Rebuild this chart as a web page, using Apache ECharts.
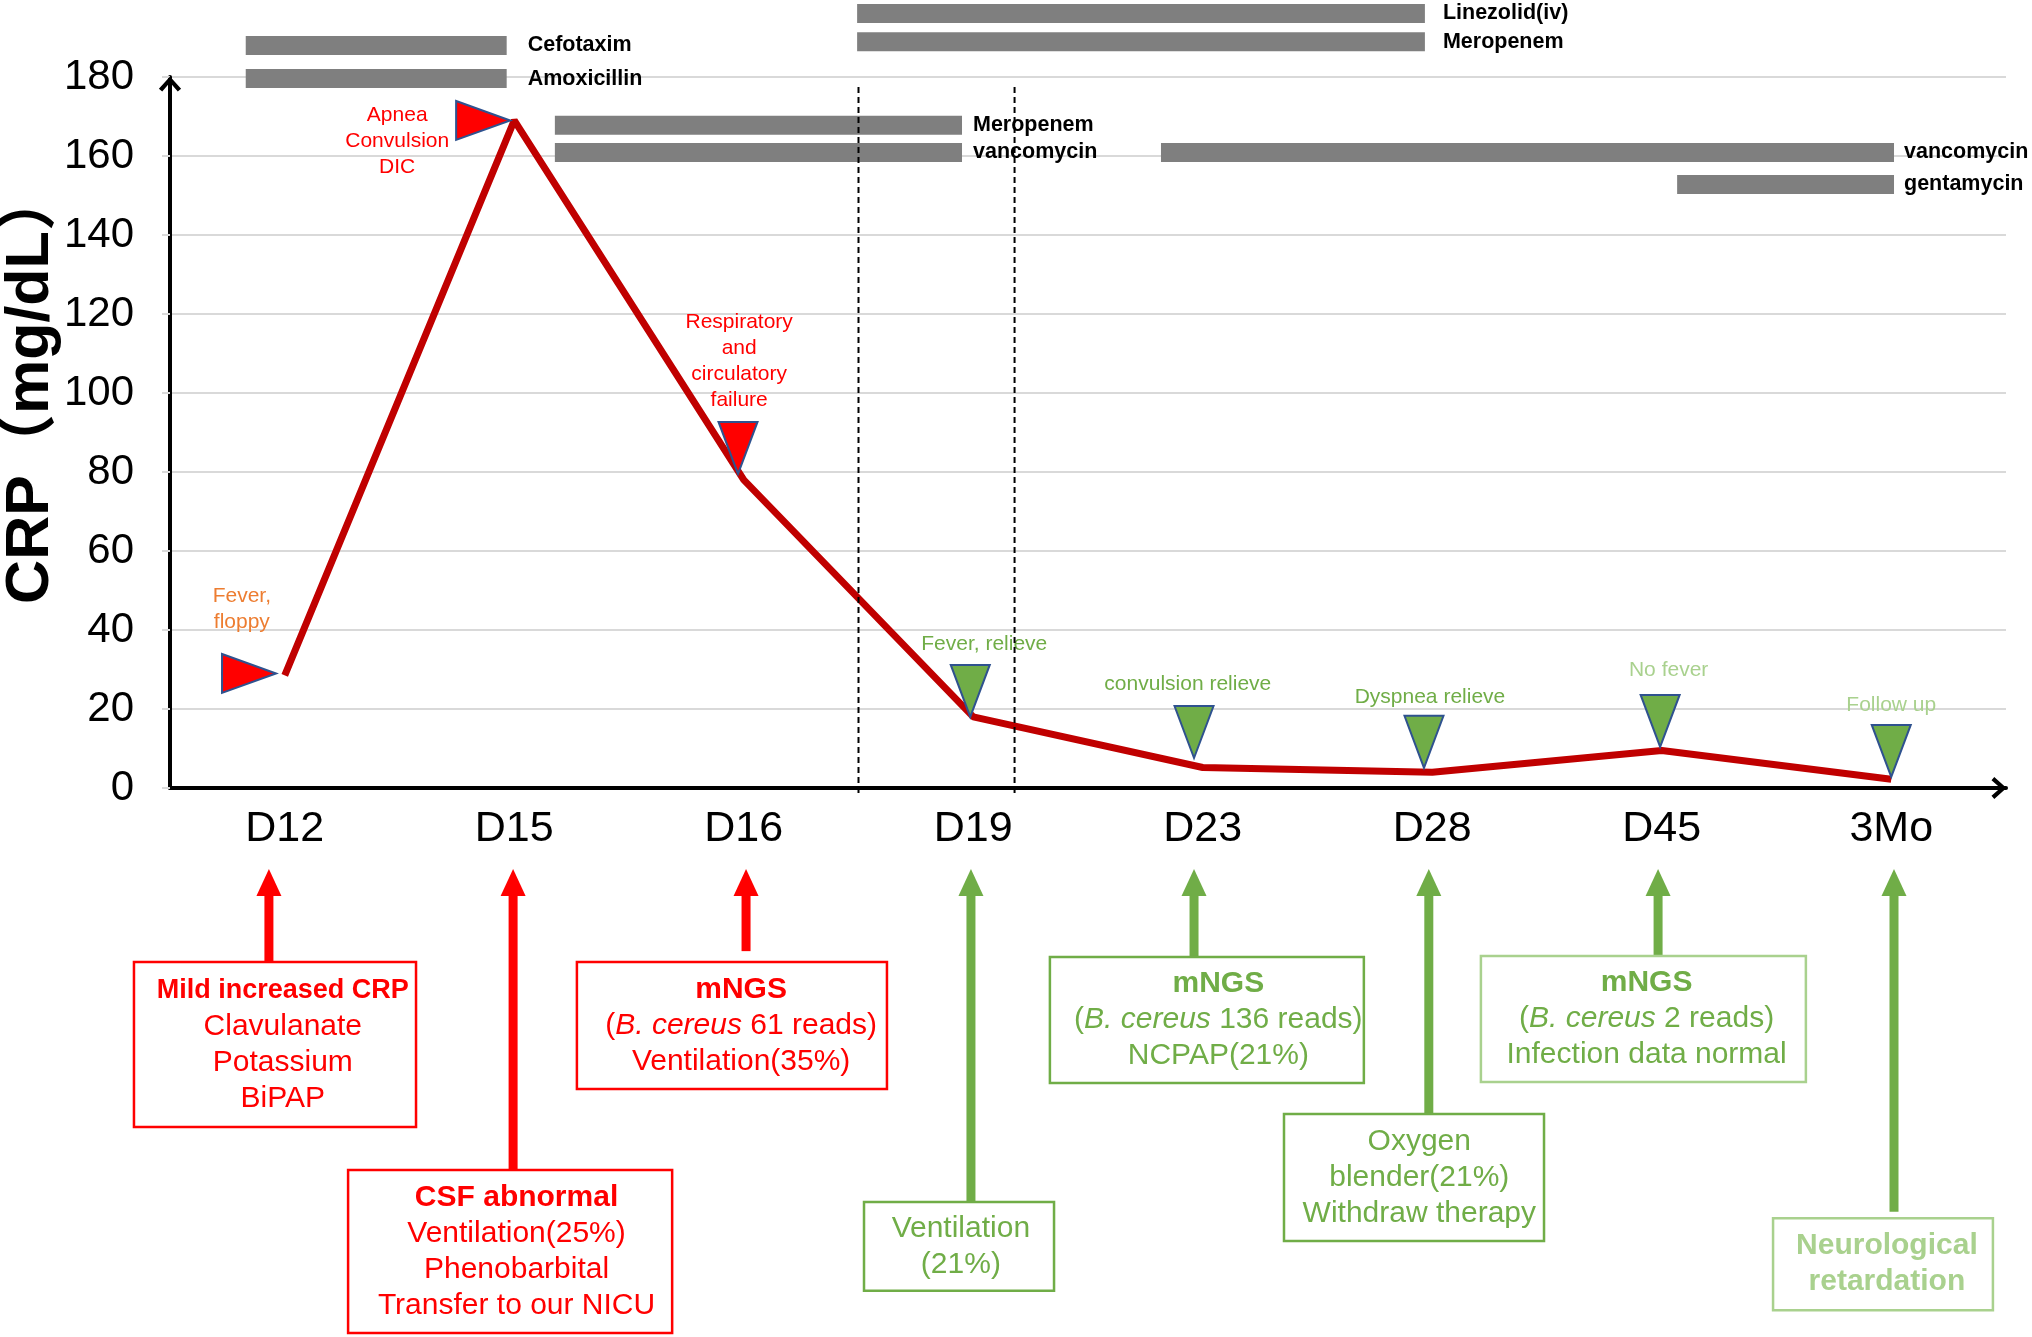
<!DOCTYPE html>
<html>
<head>
<meta charset="utf-8">
<script src="https://cdn.jsdelivr.net/npm/echarts@6/dist/echarts.min.js"></script>
<style>html,body{margin:0;padding:0;background:#fff}#c{width:2032px;height:1337px}</style>
</head>
<body>
<div id="c"></div>
<script>
// ---------------- data ----------------
const categories = ['D12', 'D15', 'D16', 'D19', 'D23', 'D28', 'D45', '3Mo'];
const crpValues = [28.5, 169, 78, 18, 5.2, 4, 9.5, 2.2];
const yAxisTitle = 'CRP（mg/dL）';

const eventLabels = ['Fever,\nfloppy', 'Apnea\nConvulsion\nDIC', 'Respiratory\nand\ncirculatory\nfailure',
  'Fever, relieve', 'convulsion relieve', 'Dyspnea relieve', 'No fever', 'Follow up'];
const eventTipValues = [29, 169, 79.5, 18, 7.6, 5.1, 10.4, 2.8];
const eventDirections = ['right', 'right', 'down', 'down', 'down', 'down', 'down', 'down'];

const drugNames = ['Cefotaxim', 'Amoxicillin', 'Linezolid(iv)', 'Meropenem', 'Meropenem', 'vancomycin', 'vancomycin', 'gentamycin'];
const drugStart = [-0.17, -0.17, 2.494, 2.494, 1.177, 1.177, 3.818, 6.067];   // in category units
const drugEnd = [0.967, 0.967, 4.968, 4.968, 2.951, 2.951, 7.012, 7.012];
const drugLane = [188.0, 179.6, 196.1, 188.9, 167.8, 160.9, 160.9, 152.8];       // lane level on CRP scale

const phaseMarks = [2.5, 3.18];  // dashed separators, category units

const noteTexts = [
  '{bc|Mild increased CRP}\n{n|Clavulanate}\n{n|Potassium}\n{n|BiPAP}',
  '{b|CSF abnormal}\n{n|Ventilation(25%)}\n{n|Phenobarbital}\n{n|Transfer to our NICU}',
  '{b|mNGS}\n{n|(}{i|B. cereus}{n| 61 reads)}\n{n|Ventilation(35%)}',
  '{n|Ventilation}\n{n|(21%)}',
  '{b|mNGS}\n{n|(}{i|B. cereus}{n| 136 reads)}\n{n|NCPAP(21%)}',
  '{n|Oxygen}\n{n|blender(21%)}\n{n|Withdraw therapy}',
  '{b|mNGS}\n{n|(}{i|B. cereus}{n| 2 reads)}\n{n|Infection data normal}',
  '{b|Neurological}\n{b|retardation}'
];

// ---------------- layout & styles ----------------
const FONT = '"Liberation Sans", Arial, "Noto Sans CJK SC", sans-serif';
const RED = '#FF0000', GREEN = '#70AD47', LIGHT = '#A9D18E', LINE = '#C00000', BAR = '#7F7F7F', EDGE = '#2F528F';

const drugLabelGap = [21, 21, 18, 18, 11, 11, 10, 10];
const eventFill = [RED, RED, RED, GREEN, GREEN, GREEN, GREEN, GREEN];
const eventTextColor = ['#ED7D31', RED, RED, GREEN, GREEN, GREEN, LIGHT, LIGHT];
const eventTipShift = [-0.038, -0.018, -0.025, -0.013, -0.038, -0.036, -0.007, 0];
const eventLabelLayout = [[-0.187, 45.3], [-0.51, 163.8], [-0.02, 108], [0.048, 36.5], [-0.065, 26.4], [-0.01, 23], [0.03, 29.9], [0, 20.9]];

const ARROW_TIP = -20.5;
const noteLayout = [
  { box: [-0.657, 0.572, -44.05, -85.8], arrowU: -0.069, arrowEnd: -44.05, textShift: 0.034 },
  { box: [0.276, 1.688, -96.7, -138.0], arrowU: 0.995, arrowEnd: -96.7, textShift: 0.028 },
  { box: [1.273, 2.624, -44.05, -76.2], arrowU: 2.010, arrowEnd: -41.3, textShift: 0.04 },
  { box: [2.524, 3.352, -104.8, -127.3], arrowU: 2.99, arrowEnd: -104.8, textShift: 0.008 },
  { box: [3.334, 4.702, -42.8, -74.7], arrowU: 3.962, arrowEnd: -42.8, textShift: 0.05 },
  { box: [4.354, 5.487, -82.5, -114.7], arrowU: 4.985, arrowEnd: -82.5, textShift: 0.023 },
  { box: [5.212, 6.628, -42.5, -74.4], arrowU: 5.984, arrowEnd: -42.5, textShift: 0.014 },
  { box: [6.485, 7.443, -108.9, -132.2], arrowU: 7.012, arrowEnd: -107.3, textShift: 0.017 }
];
const noteBorder = [RED, RED, RED, GREEN, GREEN, GREEN, LIGHT, LIGHT];
const noteTextColor = [RED, RED, RED, GREEN, GREEN, GREEN, GREEN, LIGHT];
const noteArrowColor = [RED, RED, RED, GREEN, GREEN, GREEN, GREEN, GREEN];

function richFor(color) {
  const base = { fill: color, fontSize: 30, fontFamily: FONT, lineHeight: 36 };
  return {
    n: Object.assign({}, base),
    b: Object.assign({}, base, { fontWeight: 'bold' }),
    bc: Object.assign({}, base, { fontWeight: 'bold', fontSize: 27 }),
    i: Object.assign({}, base, { fontStyle: 'italic' })
  };
}

const chevron = 'path://M10,0 L20,11 L17,13.5 L10,5.5 L3,13.5 L0,11 Z';

function renderDrug(params, api) {
  const i = params.dataIndex;
  const s = api.coord([api.value(0), api.value(2)]);
  const e = api.coord([api.value(1), api.value(2)]);
  const h = Math.abs(api.size([0, 4.8])[1]);
  return {
    type: 'group', children: [
      { type: 'rect', shape: { x: s[0], y: s[1] - h / 2, width: e[0] - s[0], height: h }, style: { fill: BAR } },
      { type: 'text', style: { text: drugNames[i], x: e[0] + drugLabelGap[i], y: s[1], verticalAlign: 'middle', align: 'left',
        fill: '#000', fontSize: 21.5, fontWeight: 'bold', fontFamily: FONT } }
    ]
  };
}

function renderEvent(params, api) {
  const i = params.dataIndex;
  const cx = api.value(0);
  const tip = api.coord([cx + eventTipShift[i], api.value(1)]);
  let pts;
  if (eventDirections[i] === 'right') {
    const w = 54, h = 39;
    pts = [[tip[0], tip[1]], [tip[0] - w, tip[1] - h / 2], [tip[0] - w, tip[1] + h / 2]];
  } else {
    const w = 39, h = 52;
    pts = [[tip[0], tip[1]], [tip[0] - w / 2, tip[1] - h], [tip[0] + w / 2, tip[1] - h]];
  }
  const lp = api.coord([cx + eventLabelLayout[i][0], eventLabelLayout[i][1]]);
  return {
    type: 'group', children: [
      { type: 'polygon', shape: { points: pts }, style: { fill: eventFill[i], stroke: EDGE, lineWidth: 2 } },
      { type: 'text', style: { text: eventLabels[i], x: lp[0], y: lp[1], align: 'center', verticalAlign: 'middle',
        fill: eventTextColor[i], fontSize: 21, fontFamily: FONT, lineHeight: 26 } }
    ]
  };
}

function renderPhase(params, api) {
  const u = api.value(0);
  const a = api.coord([u, 177.5]);
  const b = api.coord([u, -2]);
  return { type: 'line', shape: { x1: a[0], y1: a[1], x2: b[0], y2: b[1] },
    style: { stroke: '#000', lineWidth: 2, lineDash: [6, 4] } };
}

function renderNote(params, api) {
  const i = params.dataIndex;
  const L = noteLayout[i];
  const p0 = api.coord([L.box[0], L.box[2]]);
  const p1 = api.coord([L.box[1], L.box[3]]);
  const tc = api.coord([(L.box[0] + L.box[1]) / 2 + L.textShift, (L.box[2] + L.box[3]) / 2]);
  const tip = api.coord([L.arrowU, ARROW_TIP]);
  const end = api.coord([L.arrowU, L.arrowEnd]);
  const headH = 27, headW = 25, shaft = 9;
  const col = noteArrowColor[i];
  return {
    type: 'group', children: [
      { type: 'line', shape: { x1: tip[0], y1: tip[1] + headH - 1, x2: end[0], y2: end[1] }, style: { stroke: col, lineWidth: shaft } },
      { type: 'polygon', shape: { points: [[tip[0], tip[1]], [tip[0] - headW / 2, tip[1] + headH], [tip[0] + headW / 2, tip[1] + headH]] }, style: { fill: col } },
      { type: 'rect', shape: { x: p0[0], y: p0[1], width: p1[0] - p0[0], height: p1[1] - p0[1] },
        style: { fill: '#fff', stroke: noteBorder[i], lineWidth: 2.5 } },
      { type: 'text', style: { text: noteTexts[i], x: tc[0], y: tc[1],
        align: 'center', verticalAlign: 'middle', rich: richFor(noteTextColor[i]),
        fill: noteTextColor[i], fontSize: 30, fontFamily: FONT, lineHeight: 36 } }
    ]
  };
}

const chart = echarts.init(document.getElementById('c'));
chart.setOption({
  backgroundColor: '#fff',
  animation: false,
  grid: { left: 170, right: 26, top: 77, bottom: 549, containLabel: false, outerBoundsMode: 'none' },
  graphic: [{
    type: 'text', x: 31, y: 387, rotation: Math.PI / 2,
    style: { text: yAxisTitle, align: 'center', verticalAlign: 'middle', fill: '#000',
      fontSize: 61, fontWeight: 'bold', fontFamily: FONT }
  }],
  xAxis: [
    {
      type: 'category', data: categories, boundaryGap: true,
      axisLine: { show: true, lineStyle: { color: '#000', width: 4 }, symbol: ['none', chevron], symbolSize: [24, 15], symbolOffset: [0, -7] },
      axisTick: { show: false },
      axisLabel: { color: '#000', fontSize: 43, fontFamily: FONT, margin: 20 },
      splitLine: { show: false }
    },
    { type: 'value', min: -0.5, max: 7.5, show: false }
  ],
  yAxis: {
    type: 'value', min: 0, max: 180, interval: 20,
    axisLine: { show: true, onZero: false, lineStyle: { color: '#000', width: 4 }, symbol: ['none', chevron], symbolSize: [24, 15], symbolOffset: [0, -7] },
    axisTick: { show: true, length: 8, lineStyle: { color: '#D9D9D9', width: 2 } },
    axisLabel: { color: '#000', fontSize: 42, fontFamily: FONT, margin: 36 },
    splitLine: { show: true, lineStyle: { color: '#D9D9D9', width: 2 } }
  },
  series: [
    {
      type: 'custom', name: 'drugs', xAxisIndex: 1, clip: false, z: 2,
      renderItem: renderDrug,
      data: drugStart.map((s, i) => [s, drugEnd[i], drugLane[i]]),
      encode: { x: [0, 1], y: 2 }
    },
    {
      type: 'line', name: 'CRP', data: crpValues, xAxisIndex: 0, z: 3,
      symbol: 'none', lineStyle: { color: LINE, width: 7 }
    },
    {
      type: 'custom', name: 'events', xAxisIndex: 1, clip: false, z: 4,
      renderItem: renderEvent,
      data: eventTipValues.map((v, i) => [i, v]),
      encode: { x: 0, y: 1 }
    },
    {
      type: 'custom', name: 'phases', xAxisIndex: 1, clip: false, z: 5,
      renderItem: renderPhase,
      data: phaseMarks.map(u => [u, 0]),
      encode: { x: 0, y: 1 }
    },
    {
      type: 'custom', name: 'notes', xAxisIndex: 1, clip: false, z: 4,
      renderItem: renderNote,
      data: noteLayout.map((L, i) => [i, 0]),
      encode: { x: 0, y: 1 }
    }
  ]
});
</script>
</body>
</html>
